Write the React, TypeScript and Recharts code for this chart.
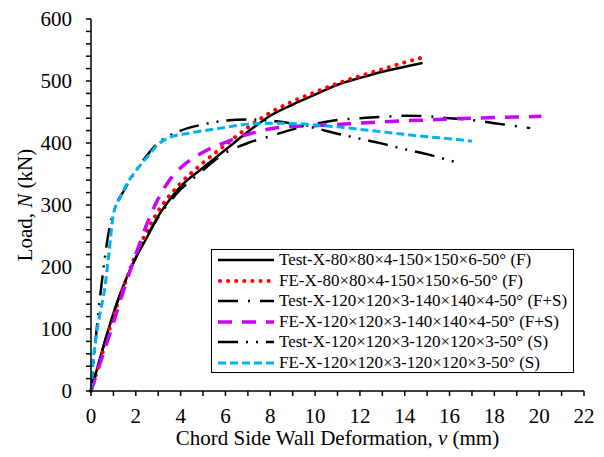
import React from "react";
import { LineChart, Line, XAxis, YAxis } from "recharts";

// Load (kN) vs chord side wall deformation (mm)
const testF = [
  { x: 0, y: 0 }, { x: 0.5, y: 65 }, { x: 1, y: 125 }, { x: 1.5, y: 175 }, { x: 2, y: 215 },
  { x: 2.5, y: 248 }, { x: 3, y: 282 }, { x: 3.5, y: 308 }, { x: 4, y: 330 }, { x: 5, y: 360 },
  { x: 6, y: 389 }, { x: 7, y: 418 }, { x: 8, y: 444 }, { x: 9, y: 462 }, { x: 10, y: 478 },
  { x: 11, y: 494 }, { x: 12, y: 505 }, { x: 13, y: 515 }, { x: 14, y: 523 }, { x: 14.8, y: 529 },
];
const feF = [
  { x: 0, y: 0 }, { x: 0.5, y: 60 }, { x: 1, y: 120 }, { x: 1.5, y: 172 }, { x: 2, y: 220 },
  { x: 2.5, y: 258 }, { x: 3, y: 290 }, { x: 4, y: 335 }, { x: 5, y: 368 }, { x: 6, y: 397 },
  { x: 7, y: 425 }, { x: 8, y: 449 }, { x: 9, y: 467 }, { x: 10, y: 482 }, { x: 11, y: 496 },
  { x: 12, y: 508 }, { x: 13, y: 519 }, { x: 14, y: 530 }, { x: 15, y: 540 },
];
const testFS = [
  { x: 0, y: 0 }, { x: 0.5, y: 65 }, { x: 1, y: 125 }, { x: 2, y: 215 }, { x: 3, y: 280 },
  { x: 4, y: 325 }, { x: 4.7, y: 347 }, { x: 5.9, y: 382 }, { x: 7, y: 400 }, { x: 8, y: 411 },
  { x: 9, y: 422 }, { x: 10, y: 431 }, { x: 11, y: 437 }, { x: 12, y: 440 }, { x: 13, y: 442 },
  { x: 14, y: 444 }, { x: 15, y: 443 }, { x: 16, y: 440 }, { x: 17, y: 437 }, { x: 18, y: 432 },
  { x: 19, y: 427 }, { x: 19.6, y: 424 },
];
const feFS = [
  { x: 0, y: 0 }, { x: 0.5, y: 55 }, { x: 1, y: 110 }, { x: 1.5, y: 168 }, { x: 2, y: 220 },
  { x: 2.5, y: 270 }, { x: 3, y: 310 }, { x: 3.5, y: 340 }, { x: 4, y: 360 }, { x: 5, y: 385 },
  { x: 6, y: 401 }, { x: 7, y: 414 }, { x: 8, y: 423 }, { x: 9, y: 427 }, { x: 10, y: 428 },
  { x: 11, y: 430 }, { x: 12, y: 432 }, { x: 13, y: 434 }, { x: 14, y: 436 }, { x: 15, y: 437 },
  { x: 16, y: 439 }, { x: 17, y: 440 }, { x: 18, y: 441 }, { x: 19, y: 442 }, { x: 20.1, y: 443 },
];
const testS = [
  { x: 0, y: 0 }, { x: 0.2, y: 80 }, { x: 0.4, y: 150 }, { x: 0.6, y: 210 }, { x: 0.8, y: 258 },
  { x: 1, y: 288 }, { x: 1.5, y: 325 }, { x: 2, y: 355 }, { x: 2.5, y: 380 }, { x: 3, y: 400 },
  { x: 3.5, y: 412 }, { x: 4, y: 420 }, { x: 5, y: 430 }, { x: 6, y: 436 }, { x: 7, y: 438 },
  { x: 8, y: 436 }, { x: 9, y: 431 }, { x: 10, y: 424 }, { x: 11, y: 415 }, { x: 12, y: 407 },
  { x: 13, y: 399 }, { x: 14, y: 390 }, { x: 15, y: 382 }, { x: 16, y: 372 }, { x: 16.4, y: 368 },
];
const feS = [
  { x: 0, y: 0 }, { x: 0.1, y: 50 }, { x: 0.2, y: 80 }, { x: 0.4, y: 125 }, { x: 0.6, y: 162 },
  { x: 0.8, y: 222 }, { x: 1, y: 285 }, { x: 1.3, y: 312 }, { x: 1.7, y: 340 }, { x: 2, y: 355 },
  { x: 2.5, y: 377 }, { x: 3, y: 398 }, { x: 3.5, y: 409 }, { x: 4.4, y: 416 }, { x: 5.8, y: 424 },
  { x: 7.2, y: 431 }, { x: 8.4, y: 432 }, { x: 9.3, y: 431 }, { x: 10, y: 429 }, { x: 11, y: 426 },
  { x: 12, y: 422 }, { x: 13, y: 418 }, { x: 14, y: 414 }, { x: 15, y: 410 }, { x: 16, y: 407 },
  { x: 17, y: 403 },
];

const xTicks = [0, 1, 2, 3, 4, 5, 6, 7, 8, 9, 10, 11, 12, 13, 14, 15, 16, 17, 18, 19, 20, 21, 22];
const yTicks = [0, 20, 40, 60, 80, 100, 120, 140, 160, 180, 200, 220, 240, 260, 280, 300, 320, 340, 360, 380, 400, 420, 440, 460, 480, 500, 520, 540, 560, 580, 600];

const series = [
  { key: "testF", name: "Test-X-80×80×4-150×150×6-50° (F)", data: testF, color: "#000000", width: 2.5, dash: undefined, cap: "butt" },
  { key: "feF", name: "FE-X-80×80×4-150×150×6-50° (F)", data: feF, color: "#FF0000", width: 4, dash: "0.1 8", cap: "round" },
  { key: "testFS", name: "Test-X-120×120×3-140×140×4-50° (F+S)", data: testFS, color: "#000000", width: 2.5, dash: "20 10 2 10", cap: "butt" },
  { key: "feFS", name: "FE-X-120×120×3-140×140×4-50° (F+S)", data: feFS, color: "#CC00FF", width: 3.5, dash: "14 10", cap: "butt" },
  { key: "testS", name: "Test-X-120×120×3-120×120×3-50° (S)", data: testS, color: "#000000", width: 2.5, dash: "20 8 2 8 2 8", cap: "butt" },
  { key: "feS", name: "FE-X-120×120×3-120×120×3-50° (S)", data: feS, color: "#00B0F0", width: 3, dash: "8 4", cap: "butt" },
];

const font = "'Liberation Serif', 'Times New Roman', serif";

function LegendBox() {
  return (
    <div
      style={{
        position: "absolute",
        left: 211,
        top: 249,
        width: 355,
        height: 122,
        boxSizing: "content-box",
        border: "1.5px solid #000",
        background: "#fff",
        padding: "0 0 0 6px",
        fontFamily: font,
        fontSize: 17,
        color: "#000",
      }}
    >
      {series.map((s) => (
        <div key={s.key} style={{ display: "flex", alignItems: "center", height: 20.5 }}>
          <svg width={56} height={10} style={{ marginRight: 5, flex: "none" }}>
            <line
              x1={s.cap === "round" ? 2 : 0}
              y1={5}
              x2={56}
              y2={5}
              stroke={s.color}
              strokeWidth={s.width}
              strokeDasharray={s.dash}
              strokeLinecap={s.cap as any}
            />
          </svg>
          <span style={{ whiteSpace: "nowrap" }}>{s.name}</span>
        </div>
      ))}
    </div>
  );
}

export default function App() {
  return (
    <div style={{ position: "absolute", left: 0, top: 0, width: 604, height: 457, background: "#fff" }}>
      <LineChart width={604} height={457} margin={{ top: 19, right: 20, bottom: 0, left: 0 }}>
        <XAxis
          type="number"
          dataKey="x"
          domain={[0, 22]}
          ticks={xTicks}
          interval={0}
          tickFormatter={(v: number) => (v % 2 === 0 ? String(v) : "")}
          tickSize={5}
          tickMargin={12}
          height={66}
          stroke="#000"
          strokeWidth={1.5}
          tick={{ fill: "#000", fontSize: 21, fontFamily: font }}
          label={{
            content: (p: any) => {
              const vb = p.viewBox || {};
              return (
                <text
                  x={vb.x + vb.width / 2}
                  y={vb.y + 54}
                  textAnchor="middle"
                  fontFamily={font}
                  fontSize={21}
                  fill="#000"
                >
                  <tspan>Chord Side Wall Deformation, </tspan>
                  <tspan fontStyle="italic">v</tspan>
                  <tspan> (mm)</tspan>
                </text>
              );
            },
          }}
        />
        <YAxis
          type="number"
          domain={[0, 600]}
          ticks={yTicks}
          interval={0}
          tickFormatter={(v: number) => (v % 100 === 0 ? String(v) : "")}
          tickSize={5}
          tickMargin={14}
          width={91}
          stroke="#000"
          strokeWidth={1.5}
          tick={{ fill: "#000", fontSize: 21, fontFamily: font }}
          label={{
            content: (p: any) => {
              const vb = p.viewBox || {};
              const cx = vb.x + 32;
              const cy = vb.y + vb.height / 2;
              return (
                <text
                  x={cx}
                  y={cy}
                  transform={`rotate(-90, ${cx}, ${cy})`}
                  textAnchor="middle"
                  fontFamily={font}
                  fontSize={21}
                  fill="#000"
                >
                  <tspan>Load, </tspan>
                  <tspan fontStyle="italic">N</tspan>
                  <tspan> (kN)</tspan>
                </text>
              );
            },
          }}
        />
        {series.map((s) => (
          <Line
            key={s.key}
            data={s.data}
            dataKey="y"
            name={s.name}
            type="monotone"
            stroke={s.color}
            strokeWidth={s.width}
            strokeDasharray={s.dash}
            strokeLinecap={s.cap as any}
            dot={false}
            activeDot={false}
            isAnimationActive={false}
          />
        ))}
      </LineChart>
      <LegendBox />
    </div>
  );
}
